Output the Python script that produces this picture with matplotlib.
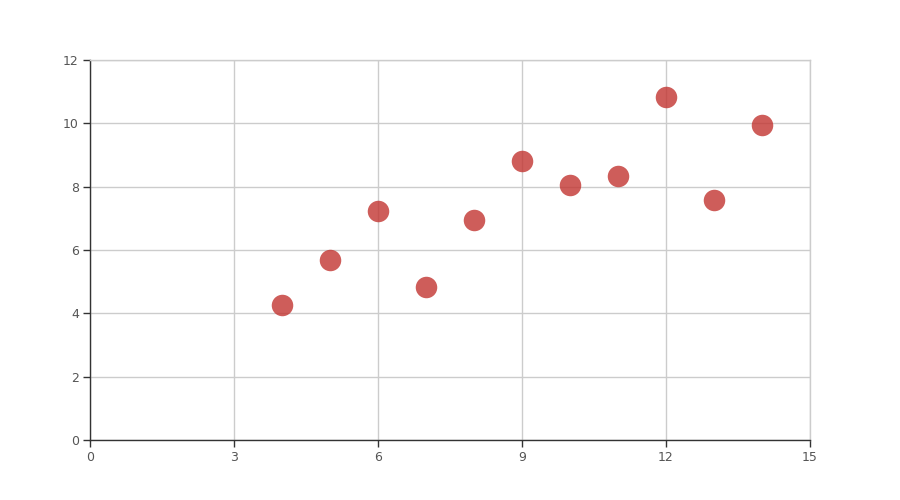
import matplotlib.pyplot as plt

x_values = [10, 8, 13, 9, 11, 14, 6, 4, 12, 7, 5]
y_values = [8.04, 6.95, 7.58, 8.81, 8.33, 9.96, 7.24, 4.26, 10.84, 4.82, 5.68]
x_ticks = [0, 3, 6, 9, 12, 15]
y_ticks = [0, 2, 4, 6, 8, 10, 12]

fig = plt.figure(figsize=(9, 5), dpi=100)
ax = fig.add_axes([0.1, 0.12, 0.8, 0.76])

ax.scatter(x_values, y_values, s=240, color="#c23531", alpha=0.8,
           linewidths=0, zorder=3)

ax.set_xlim(0, 15)
ax.set_ylim(0, 12)
ax.set_xticks(x_ticks)
ax.set_yticks(y_ticks)
ax.grid(True, color="#cccccc", linewidth=1)
ax.set_axisbelow(True)

# top/right edges look like grid lines
for side in ["top", "right"]:
    ax.spines[side].set_color("#cccccc")
    ax.spines[side].set_linewidth(1)
for side in ["left", "bottom"]:
    ax.spines[side].set_color("#333333")
    ax.spines[side].set_linewidth(1)

ax.tick_params(axis="both", direction="out", length=5, width=1,
               color="#333333", labelcolor="#555555", labelsize=9, pad=3)

fig.savefig("out.png", dpi=100)
